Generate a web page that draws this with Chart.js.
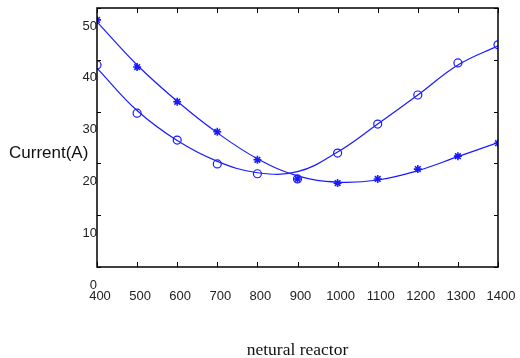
<!DOCTYPE html>
<html>
<head>
<meta charset="utf-8">
<script src="https://cdn.jsdelivr.net/npm/chart.js@4"></script>
<style>
  html, body { margin: 0; padding: 0; background: #fff; }
  #wrap { width: 520px; height: 358px; }
</style>
</head>
<body>
<div id="wrap"><canvas id="chart" width="520" height="358"></canvas></div>
<script>
// x positions (neural reactor)
const xValues = [400, 500, 600, 700, 800, 900, 1000, 1100, 1200, 1300, 1400];
const yTicks = [0, 10, 20, 30, 40, 50];

// measured points
const starPoints = [47.7, 38.6, 31.9, 26.1, 20.7, 17.0, 16.2, 17.0, 18.9, 21.4, 23.9];
const circlePoints = [39.0, 29.7, 24.5, 19.9, 18.0, 17.0, 22.0, 27.6, 33.2, 39.4, 42.9];

// fitted curves
const starFit = [47.3, 39.0, 32.0, 25.9, 20.9, 17.6, 16.4, 16.8, 18.6, 21.3, 24.0];
const circleFit = [38.4, 30.2, 24.4, 20.4, 18.2, 18.4, 22.2, 27.6, 33.2, 39.0, 42.7];

const blue = '#1a1aff';
const toXY = arr => arr.map((v, i) => ({ x: xValues[i], y: v }));

// box + inward tick marks + horizontal titles
const framePlugin = {
  id: 'frame',
  afterDraw(chart) {
    const { ctx, chartArea: a, scales } = chart;
    ctx.save();
    ctx.strokeStyle = '#000';
    ctx.lineWidth = 1.5;
    ctx.strokeRect(a.left, a.top, a.right - a.left, a.bottom - a.top);
    ctx.lineWidth = 1;
    ctx.beginPath();
    xValues.forEach(v => {
      const px = Math.round(scales.x.getPixelForValue(v)) + 0.5;
      ctx.moveTo(px, a.bottom); ctx.lineTo(px, a.bottom - 5);
      ctx.moveTo(px, a.top); ctx.lineTo(px, a.top + 5);
    });
    yTicks.forEach(v => {
      const py = Math.round(scales.y.getPixelForValue(v)) + 0.5;
      ctx.moveTo(a.left, py); ctx.lineTo(a.left + 4, py);
      ctx.moveTo(a.right, py); ctx.lineTo(a.right - 4, py);
    });
    ctx.stroke();

    ctx.fillStyle = '#111';
    ctx.font = '17px "Liberation Sans", Arial, sans-serif';
    ctx.textAlign = 'left';
    ctx.textBaseline = 'middle';
    ctx.fillText('Current(A)', 9, 153);

    ctx.font = '17.5px "Liberation Serif", "Times New Roman", serif';
    ctx.textAlign = 'center';
    ctx.fillText('netural reactor', (a.left + a.right) / 2, 350);
    ctx.restore();
  }
};

new Chart(document.getElementById('chart'), {
  type: 'scatter',
  data: {
    datasets: [
      {
        label: 'star fit', data: toXY(starFit), showLine: true, tension: 0.4,
        borderColor: blue, borderWidth: 1.2, pointRadius: 0, fill: false
      },
      {
        label: 'circle fit', data: toXY(circleFit), showLine: true, tension: 0.4,
        borderColor: blue, borderWidth: 1.2, pointRadius: 0, fill: false
      },
      {
        label: 'star', data: toXY(starPoints), showLine: false,
        pointStyle: 'star', pointRadius: 4, borderColor: blue, borderWidth: 1.6,
        backgroundColor: blue
      },
      {
        label: 'circle', data: toXY(circlePoints), showLine: false,
        pointStyle: 'circle', pointRadius: 4, borderColor: blue, borderWidth: 1.2,
        backgroundColor: 'rgba(0,0,0,0)'
      }
    ]
  },
  options: {
    responsive: false,
    animation: false,
    layout: { padding: { left: 0, right: 22, top: 8, bottom: 0 } },
    plugins: { legend: { display: false }, tooltip: { enabled: false } },
    scales: {
      x: {
        type: 'linear', min: 400, max: 1400,
        afterFit: s => { s.height = 91; s.paddingLeft = 0; s.paddingRight = 0; },
        afterBuildTicks: s => { s.ticks = xValues.map(v => ({ value: v })); },
        grid: { display: false, drawTicks: false },
        border: { display: false },
        ticks: {
          padding: 22, labelOffset: 3, maxRotation: 0, autoSkip: false,
          callback: v => String(v),
          color: '#222', font: { family: '"Liberation Sans", Arial, sans-serif', size: 13 }
        }
      },
      y: {
        min: 0, max: 50,
        afterFit: s => { s.width = 97; s.paddingTop = 0; s.paddingBottom = 0; },
        afterBuildTicks: s => { s.ticks = yTicks.map(v => ({ value: v })); },
        grid: { display: false, drawTicks: false },
        border: { display: false },
        ticks: {
          padding: 0, labelOffset: 18,
          color: '#222', font: { family: '"Liberation Sans", Arial, sans-serif', size: 13 }
        }
      }
    }
  },
  plugins: [framePlugin]
});
</script>
</body>
</html>
